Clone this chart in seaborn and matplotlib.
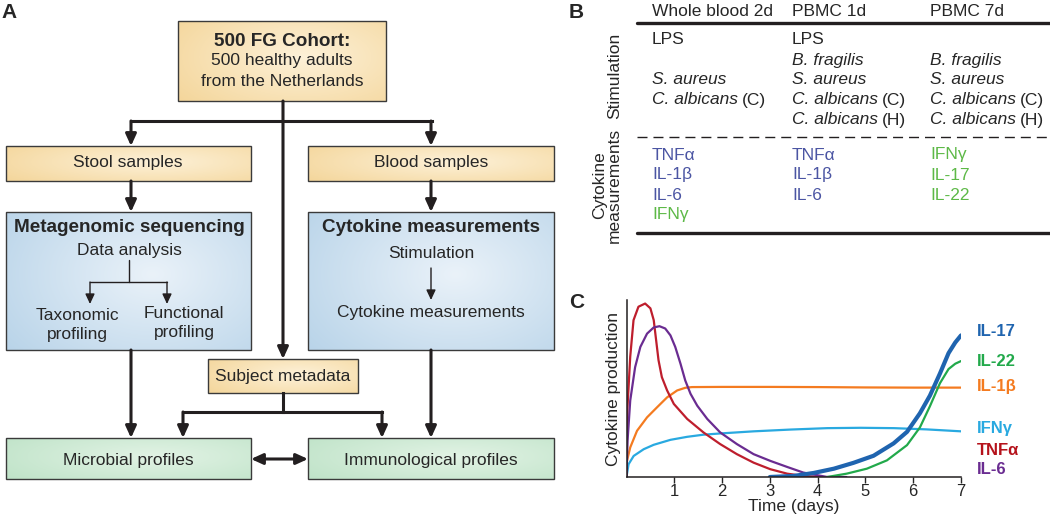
import matplotlib
matplotlib.use("Agg")
import matplotlib.pyplot as plt
from matplotlib.patches import Rectangle
from matplotlib.colors import to_rgb
import seaborn as sns
import numpy as np

# ---- panel C data ----
tnf_day = [0, 0.02, 0.078, 0.147, 0.25, 0.39, 0.50, 0.57, 0.62, 0.67, 0.74, 0.85, 0.99, 1.27, 1.61,
           1.96, 2.31, 2.66, 3.01, 3.36, 3.7, 4.06]
tnf_val = [0, 0.39, 0.68, 0.886, 0.962, 0.98, 0.953, 0.886, 0.773, 0.66, 0.564, 0.489, 0.413, 0.328,
           0.252, 0.186, 0.129, 0.081, 0.044, 0.019, 0.006, 0]
il6_day = [0, 0.022, 0.078, 0.18, 0.29, 0.43, 0.57, 0.69, 0.81, 0.92, 1.02, 1.13, 1.23, 1.34, 1.48,
           1.69, 1.96, 2.31, 2.66, 3.01, 3.36, 3.7, 4.2, 4.6]
il6_val = [0, 0.205, 0.432, 0.62, 0.735, 0.81, 0.845, 0.852, 0.839, 0.80, 0.735, 0.64, 0.545, 0.47,
           0.403, 0.328, 0.252, 0.186, 0.129, 0.091, 0.057, 0.025, 0, 0]
il1b_day = [0, 0.078, 0.22, 0.43, 0.64, 0.85, 1.06, 1.23, 1.37, 2.0, 3.0, 4.0, 5.0, 6.0, 7.0]
il1b_val = [0.08, 0.167, 0.261, 0.337, 0.394, 0.45, 0.489, 0.504, 0.508, 0.509, 0.509, 0.508, 0.506, 0.505, 0.505]
ifng_day = [0, 0.043, 0.15, 0.36, 0.57, 0.92, 1.27, 1.61, 1.96, 2.66, 3.43, 4.2, 4.9, 5.6, 6.28, 7.0]
ifng_val = [0, 0.072, 0.119, 0.157, 0.182, 0.21, 0.227, 0.239, 0.246, 0.258, 0.268, 0.276, 0.278, 0.276,
            0.269, 0.258]
il17_day = [3.0, 3.5, 3.92, 4.34, 4.75, 5.17, 5.59, 5.87, 6.14, 6.35, 6.56, 6.74, 6.88, 7.0]
il17_val = [0, 0.006, 0.023, 0.047, 0.08, 0.12, 0.19, 0.255, 0.36, 0.46, 0.585, 0.70, 0.76, 0.80]
il22_day = [4.2, 4.61, 5.03, 5.45, 5.87, 6.14, 6.35, 6.56, 6.74, 6.88, 7.0]
il22_val = [0, 0.019, 0.047, 0.094, 0.18, 0.28, 0.40, 0.53, 0.61, 0.64, 0.655]

curve_names = ["IFNγ", "IL-1β", "TNFα", "IL-6", "IL-22", "IL-17"]
curve_days = [ifng_day, il1b_day, tnf_day, il6_day, il22_day, il17_day]
curve_vals = [ifng_val, il1b_val, tnf_val, il6_val, il22_val, il17_val]
curve_colors = ["#29A9E0", "#F47B20", "#BE1E2D", "#6A2C91", "#22A94B", "#1F64AF"]
curve_widths = [1.6, 1.6, 1.6, 1.6, 1.6, 3.0]

label_names = ["IL-17", "IL-22", "IL-1β", "IFNγ", "TNFα", "IL-6"]
label_y = [0.82, 0.655, 0.51, 0.275, 0.152, 0.04]
label_colors = ["#1F64AF", "#22A94B", "#F47B20", "#29A9E0", "#B5121B", "#6A2C91"]

# ---- panel B table ----
col_headers = ["Whole blood 2d", "PBMC 1d", "PBMC 7d"]
stimuli = [
    ["LPS", "", ("S. aureus", ""), ("C. albicans", "(C)"), ""],
    ["LPS", ("B. fragilis", ""), ("S. aureus", ""), ("C. albicans", "(C)"), ("C. albicans", "(H)")],
    ["", ("B. fragilis", ""), ("S. aureus", ""), ("C. albicans", "(C)"), ("C. albicans", "(H)")],
]
cytokines = [
    [("TNFα", "inn"), ("IL-1β", "inn"), ("IL-6", "inn"), ("IFNγ", "adp")],
    [("TNFα", "inn"), ("IL-1β", "inn"), ("IL-6", "inn")],
    [("IFNγ", "adp"), ("IL-17", "adp"), ("IL-22", "adp")],
]
cyto_colors = {"inn": "#4B55A3", "adp": "#5DB947"}

LINE = "#231F20"
YELLOW = ("#F4D69B", "#FDF1D8")
BLUE = ("#B9D4E9", "#EAF2F9")
GREEN = ("#BFE3C8", "#E2F3E5")

sns.set_style("white")
plt.rcParams["font.family"] = ["Liberation Sans", "DejaVu Sans"]

fig = plt.figure(figsize=(10.5, 5.18), dpi=100)
ax = fig.add_axes([0, 0, 1, 1])
ax.set_xlim(0, 1050)
ax.set_ylim(518, 0)
ax.axis("off")


def grad_box(x0, y0, x1, y1, cols):
    edge = np.array(to_rgb(cols[0]))
    mid = np.array(to_rgb(cols[1]))
    yy, xx = np.mgrid[0:1:60j, 0:1:120j]
    d = np.clip(np.hypot((xx - 0.6) / 0.75, (yy - 0.45) / 0.9), 0, 1)[..., None]
    rgb = mid * (1 - d) + edge * d
    ax.imshow(rgb, extent=(x0, x1, y1, y0), aspect="auto", interpolation="bilinear", zorder=1)
    ax.add_patch(Rectangle((x0, y0), x1 - x0, y1 - y0, fill=False, ec="#3A3A3A", lw=1.0, zorder=2))


def arrow(x0, y0, x1, y1, lw=2.2, style="-|>,head_length=0.7,head_width=0.32"):
    ax.annotate("", xy=(x1, y1), xytext=(x0, y0),
                arrowprops=dict(arrowstyle=style, lw=lw, color=LINE, shrinkA=0, shrinkB=0),
                zorder=3)


def line(xs, ys, lw=2.2):
    ax.plot(xs, ys, color=LINE, lw=lw, solid_capstyle="projecting", zorder=3)


# ---- panel A: flowchart ----
grad_box(178, 21, 386, 101, YELLOW)
grad_box(6, 146, 251, 181, YELLOW)
grad_box(308, 146, 554, 181, YELLOW)
grad_box(6, 212, 251, 350, BLUE)
grad_box(308, 212, 554, 350, BLUE)
grad_box(208, 359, 358, 393, YELLOW)
grad_box(6, 438, 251, 479, GREEN)
grad_box(308, 438, 554, 479, GREEN)

fs, fsb = 12.5, 13.6
ax.text(282, 41, "500 FG Cohort:", ha="center", va="center", fontsize=fsb, weight="bold", zorder=4)
ax.text(282, 61, "500 healthy adults", ha="center", va="center", fontsize=fs, zorder=4)
ax.text(282, 81, "from the Netherlands", ha="center", va="center", fontsize=fs, zorder=4)
ax.text(128, 163, "Stool samples", ha="center", va="center", fontsize=fs, zorder=4)
ax.text(431, 163, "Blood samples", ha="center", va="center", fontsize=fs, zorder=4)
ax.text(129, 228, "Metagenomic sequencing", ha="center", va="center", fontsize=fsb, weight="bold", zorder=4)
ax.text(129, 250, "Data analysis", ha="center", va="center", fontsize=fs, zorder=4)
ax.text(77, 315, "Taxonomic", ha="center", va="center", fontsize=fs, zorder=4)
ax.text(77, 335, "profiling", ha="center", va="center", fontsize=fs, zorder=4)
ax.text(184, 313, "Functional", ha="center", va="center", fontsize=fs, zorder=4)
ax.text(184, 333, "profiling", ha="center", va="center", fontsize=fs, zorder=4)
ax.text(431, 228, "Cytokine measurements", ha="center", va="center", fontsize=fsb, weight="bold", zorder=4)
ax.text(431, 254, "Stimulation", ha="center", va="center", fontsize=fs, zorder=4)
ax.text(431, 313, "Cytokine measurements", ha="center", va="center", fontsize=fs, zorder=4)
ax.text(283, 376, "Subject metadata", ha="center", va="center", fontsize=fs, zorder=4)
ax.text(128, 460, "Microbial profiles", ha="center", va="center", fontsize=fs, zorder=4)
ax.text(431, 460, "Immunological profiles", ha="center", va="center", fontsize=fs, zorder=4)

line([131, 432], [121, 121])
arrow(283, 101, 283, 359)
arrow(131, 121, 131, 146)
arrow(431, 121, 431, 146)
arrow(131, 181, 131, 212)
arrow(431, 181, 431, 212)
arrow(131, 350, 131, 438)
arrow(431, 350, 431, 438)
line([283, 283], [393, 412])
line([183, 382], [412, 412])
arrow(183, 412, 183, 438)
arrow(382, 412, 382, 438)
arrow(251, 459, 308, 459, style="<|-|>,head_length=0.7,head_width=0.32")
# small tree inside metagenomic box
thin = "-|>,head_length=0.6,head_width=0.28"
ax.plot([129, 129], [260, 282], color=LINE, lw=1.0, zorder=3)
ax.plot([90, 167], [282, 282], color=LINE, lw=1.0, zorder=3)
arrow(90, 282, 90, 304, lw=1.0, style=thin)
arrow(167, 282, 167, 304, lw=1.0, style=thin)
arrow(431, 268, 431, 300, lw=1.0, style=thin)

# ---- panel B: table ----
col_x = [652, 792, 930]
row_y = [40, 60, 80, 100, 120]
cyto_y = [155, 175, 195, 215]
fst = 12.5
ax.plot([637, 1050], [23, 23], color=LINE, lw=2.4)
ax.plot([637, 1050], [233, 233], color=LINE, lw=2.4)
ax.plot([637, 1050], [137, 137], color=LINE, lw=1.0, ls=(0, (7.2, 4.3)))
for x, head, stims, cyts in zip(col_x, col_headers, stimuli, cytokines):
    ax.text(x, 12, head, ha="left", va="center", fontsize=fst)
    for y, s in zip(row_y, stims):
        if not s:
            continue
        if isinstance(s, str):
            ax.text(x, y, s, ha="left", va="center", fontsize=fst)
        else:
            t = ax.text(x, y, s[0], ha="left", va="center", fontsize=fst, style="italic")
            if s[1]:
                ax.annotate(s[1], xy=(1, 0), xycoords=t, xytext=(3, 0), textcoords="offset points",
                            ha="left", va="bottom", fontsize=fst)
    for y, (c, kind) in zip(cyto_y, cyts):
        ax.text(x, y, c, ha="left", va="center", fontsize=fst, color=cyto_colors[kind])
ax.text(615, 76, "Stimulation", rotation=90, ha="center", va="center", fontsize=fst)
ax.text(607, 185, "Cytokine\nmeasurements", rotation=90, ha="center", va="center",
        fontsize=fst, linespacing=1.0)

# panel letters
ax.text(1, 12, "A", ha="left", va="center", fontsize=15, weight="bold")
ax.text(569, 12, "B", ha="left", va="center", fontsize=15, weight="bold")
ax.text(569, 302, "C", ha="left", va="center", fontsize=15, weight="bold")

# ---- panel C: cytokine kinetics ----
axc = fig.add_axes([626.5 / 1050, 41 / 518, 334.5 / 1050, 177 / 518])
for name, d, v, c, w in zip(curve_names, curve_days, curve_vals, curve_colors, curve_widths):
    sns.lineplot(x=d, y=v, ax=axc, color=c, lw=w, sort=False, estimator=None, legend=False)
for name, y, c in zip(label_names, label_y, label_colors):
    axc.text(7.33, y, name, ha="left", va="center", fontsize=12, weight="bold", color=c, clip_on=False)
axc.set_xlim(0, 7)
axc.set_ylim(0, 1)
axc.set_xticks(range(1, 8))
axc.set_yticks([])
axc.tick_params(axis="x", direction="out", length=4, width=1.0, labelsize=12, pad=1, bottom=True)
axc.set_xlabel("Time (days)", fontsize=12.5, labelpad=0)
axc.set_ylabel("Cytokine production", fontsize=12.5, labelpad=4)
sns.despine(ax=axc)
for s in ("left", "bottom"):
    axc.spines[s].set_color(LINE)
    axc.spines[s].set_linewidth(1.1)
axc.patch.set_alpha(0)

fig.savefig("out.png", dpi=100)
